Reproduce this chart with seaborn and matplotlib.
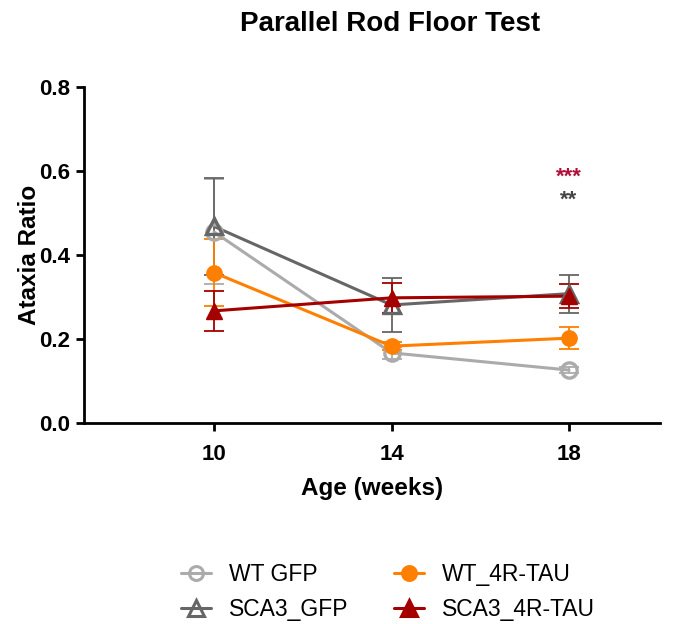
import matplotlib
matplotlib.use("Agg")
import matplotlib.pyplot as plt
import seaborn as sns
import pandas as pd
from matplotlib.lines import Line2D

ages = [10, 14, 18]
groups = ["WT GFP", "WT_4R-TAU", "SCA3_GFP", "SCA3_4R-TAU"]
wt_gfp = [0.455, 0.167, 0.126]
wt_gfp_err = [0.125, 0.015, 0.008]
wt_tau = [0.358, 0.183, 0.202]
wt_tau_err = [0.08, 0.01, 0.026]
sca3_gfp = [0.468, 0.281, 0.308]
sca3_gfp_err = [0.115, 0.065, 0.045]
sca3_tau = [0.267, 0.298, 0.302]
sca3_tau_err = [0.048, 0.035, 0.028]

means = [wt_gfp, wt_tau, sca3_gfp, sca3_tau]
errs = [wt_gfp_err, wt_tau_err, sca3_gfp_err, sca3_tau_err]
colors = {"WT GFP": "#ababab", "WT_4R-TAU": "#ff8000",
          "SCA3_GFP": "#666666", "SCA3_4R-TAU": "#a50000"}
markers = {"WT GFP": "o", "WT_4R-TAU": "o", "SCA3_GFP": "^", "SCA3_4R-TAU": "^"}
filled = {"WT GFP": False, "WT_4R-TAU": True, "SCA3_GFP": False, "SCA3_4R-TAU": True}

rows = []
for g, m, e in zip(groups, means, errs):
    for a, v, s in zip(ages, m, e):
        rows.append({"Age": a, "Ratio": v, "err": s, "Group": g})
df = pd.DataFrame(rows)

sns.set_style("white")
plt.rcParams["font.family"] = ["Liberation Sans", "DejaVu Sans"]
plt.rcParams["text.color"] = "black"
plt.rcParams["axes.labelcolor"] = "black"
plt.rcParams["xtick.color"] = "black"
plt.rcParams["ytick.color"] = "black"

fig = plt.figure(figsize=(6.76, 6.24), dpi=100)
ax = fig.add_axes([84/676, 1-423/624, 576/676, 336/624])

order_draw = ["WT GFP", "SCA3_GFP", "WT_4R-TAU", "SCA3_4R-TAU"]
for g in order_draw:
    sub = df[df.Group == g]
    ax.errorbar(sub.Age, sub.Ratio, yerr=sub.err, fmt="none",
                ecolor=colors[g], elinewidth=1.3, capsize=7, capthick=1.3, zorder=2)
    sns.lineplot(data=sub, x="Age", y="Ratio", ax=ax, color=colors[g],
                 linewidth=2.2, zorder=3, legend=False)
    ax.plot(sub.Age, sub.Ratio, linestyle="none", marker=markers[g],
            markersize=11 if markers[g] == "o" else 12,
            markerfacecolor=colors[g] if filled[g] else "none",
            markeredgecolor=colors[g], markeredgewidth=2.4 if not filled[g] else 1,
            zorder=4)

ax.text(18, 0.585, "***", color="#b0103a", ha="center", va="center",
        fontsize=16, fontweight="bold")
ax.text(18, 0.530, "**", color="#444444", ha="center", va="center",
        fontsize=16, fontweight="bold")

ax.set_xlim(7.07, 20.05)
ax.set_ylim(0, 0.8)
ax.set_xticks(ages)
ax.set_yticks([0.0, 0.2, 0.4, 0.6, 0.8])
ax.set_yticklabels(["0.0", "0.2", "0.4", "0.6", "0.8"])
ax.tick_params(axis="both", labelsize=16, width=2, length=6, direction="out",
               left=True, bottom=True)
ax.tick_params(axis="x", pad=9)
ax.tick_params(axis="y", pad=4)
for lbl in ax.get_xticklabels() + ax.get_yticklabels():
    lbl.set_fontweight("bold")
ax.set_xlabel("Age (weeks)", fontsize=17.5, fontweight="bold")
ax.set_ylabel("Ataxia Ratio", fontsize=17.5, fontweight="bold")
ax.xaxis.set_label_coords(0.5, -(488 - 423) / 336, transform=ax.transAxes)
ax.xaxis.label.set_va("center")
ax.yaxis.set_label_coords(-(84 - 30) / 576, 0.5, transform=ax.transAxes)
ax.yaxis.label.set_va("center")
sns.despine(ax=ax)
for sp in ["left", "bottom"]:
    ax.spines[sp].set_linewidth(2)
    ax.spines[sp].set_color("black")

fig.text(390/676, 1-24/624, "Parallel Rod Floor Test", ha="center", va="center",
         fontsize=20, fontweight="bold")

handles = []
for g in ["WT GFP", "SCA3_GFP", "WT_4R-TAU", "SCA3_4R-TAU"]:
    handles.append(Line2D([], [], color=colors[g], marker=markers[g], linewidth=2.2,
                          markersize=10 if markers[g] == "o" else 11,
                          markerfacecolor=colors[g] if filled[g] else "none",
                          markeredgecolor=colors[g], markeredgewidth=2.2))
fig.legend(handles, ["WT GFP", "SCA3_GFP", "WT_4R-TAU", "SCA3_4R-TAU"],
           loc="center", bbox_to_anchor=(388/676, 1-592/624), ncol=2,
           frameon=False, fontsize=16.5, handlelength=1.3, handletextpad=0.8,
           columnspacing=2.0, labelspacing=0.5)

fig.savefig("out.png", dpi=100)
